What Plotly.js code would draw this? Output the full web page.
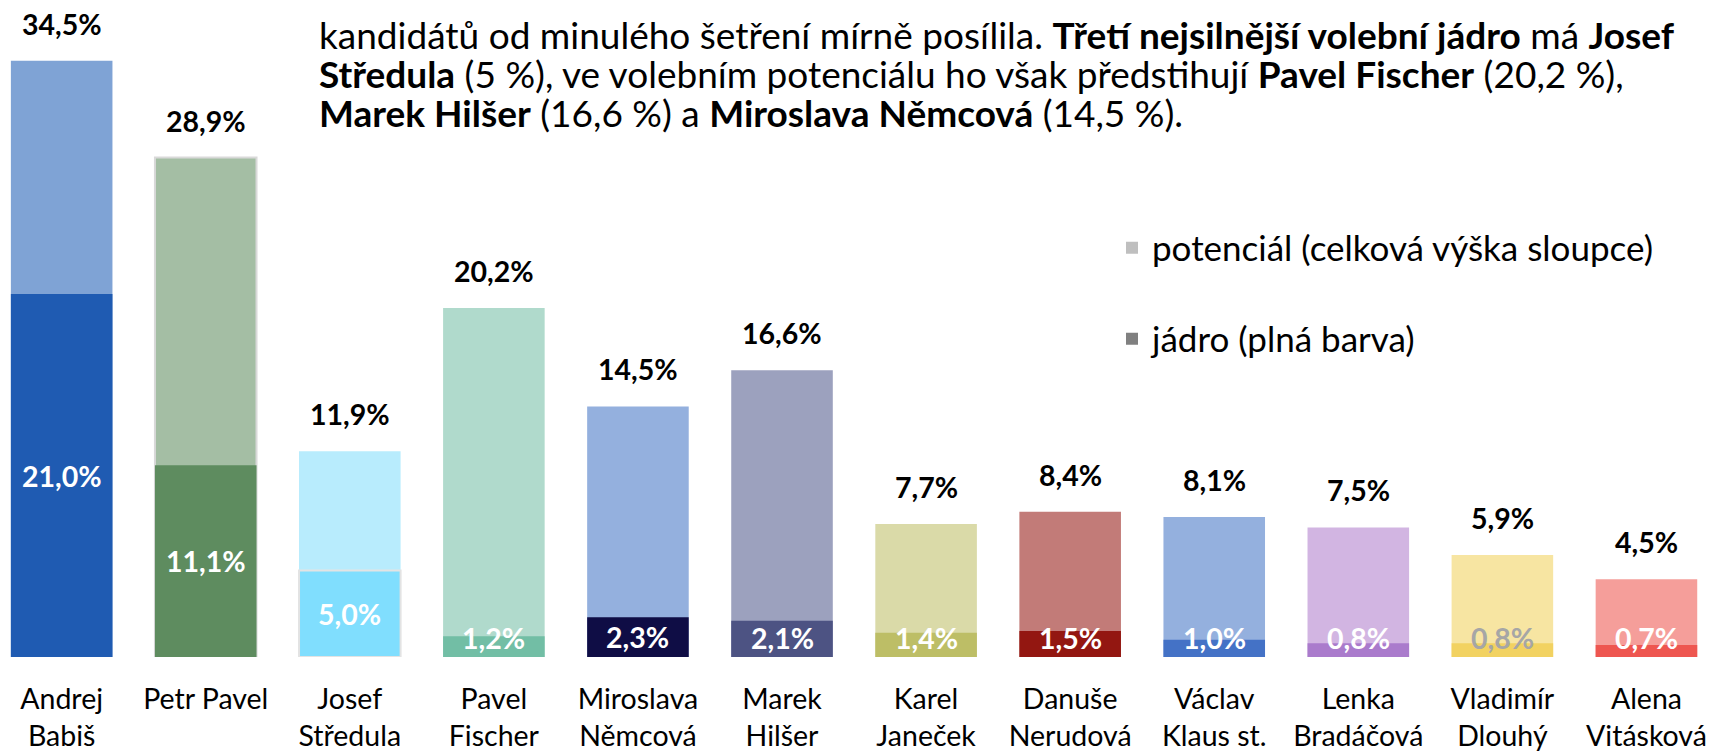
<!DOCTYPE html>
<html>
<head>
<meta charset="utf-8">
<script src="https://cdn.plot.ly/plotly-3.0.1.min.js"></script>
<style>html,body{margin:0;padding:0;background:#fff;}#chart{width:1712px;height:752px;}</style>
</head>
<body>
<div id="chart"></div>
<script>
const categories = ['Andrej<br>Babiš','Petr Pavel','Josef<br>Středula','Pavel<br>Fischer','Miroslava<br>Němcová','Marek<br>Hilšer','Karel<br>Janeček','Danuše<br>Nerudová','Václav<br>Klaus st.','Lenka<br>Bradáčová','Vladimír<br>Dlouhý','Alena<br>Vitásková'];
const potential = [34.5, 28.9, 11.9, 20.2, 14.5, 16.6, 7.7, 8.4, 8.1, 7.5, 5.9, 4.5];
const core = [21.0, 11.1, 5.0, 1.2, 2.3, 2.1, 1.4, 1.5, 1.0, 0.8, 0.8, 0.7];
const potentialColors = ['#7FA3D5','#A4BEA4','#B8ECFD','#B0DACC','#94B0DE','#9CA1BE','#DADAA8','#C27B78','#94B0DE','#D2B5E2','#F7E5A2','#F59E9A'];
const coreColors = ['#1F5BB2','#5E8C5F','#80DEFE','#72BEA5','#0F0D45','#4D5383','#BDBE66','#931711','#4472C6','#AA7BCC','#F2D261','#EE5650'];
const coreLabelColors = ['#FFFFFF','#FFFFFF','#FFFFFF','#FFFFFF','#FFFFFF','#FFFFFF','#FFFFFF','#FFFFFF','#FFFFFF','#FFFFFF','#A6A6A6','#FFFFFF'];
const legendNames = ['potenciál (celková výška sloupce)', 'jádro (plná barva)'];
const legendColors = ['#BFBFBF', '#808080'];
const paragraphLines = [
  'kandidátů od minulého šetření mírně posílila. <b>Třetí nejsilnější volební jádro</b> má <b>Josef</b>',
  '<b>Středula</b> (5 %), ve volebním potenciálu ho však předstihují <b>Pavel Fischer</b> (20,2 %),',
  '<b>Marek Hilšer</b> (16,6 %) a <b>Miroslava Němcová</b> (14,5 %).'
];

const FONT = 'Lato, "Open Sans", sans-serif';
const fmt = v => v.toFixed(1).replace('.', ',') + '%';

const W = 1712, H = 752, plotBottom = 657;

const traces = [
  {
    type: 'bar', x: categories, y: potential, showlegend: false,
    marker: { color: potentialColors,
      line: { color: '#D9D9D9', width: potential.map((v, i) => i === 1 ? 2 : 0) } },
    hoverinfo: 'skip'
  },
  {
    type: 'bar', x: categories, y: core, showlegend: false,
    marker: { color: coreColors,
      line: { color: '#E3E3E3', width: core.map((v, i) => i === 2 ? 2 : 0) } },
    hoverinfo: 'skip'
  },
  { type: 'bar', x: [null], y: [null], name: legendNames[0], marker: { color: legendColors[0] }, legend: 'legend', showlegend: true },
  { type: 'bar', x: [null], y: [null], name: legendNames[1], marker: { color: legendColors[1] }, legend: 'legend2', showlegend: true }
];

const annotations = [];
categories.forEach((c, i) => {
  annotations.push({
    x: c, y: potential[i], xref: 'x', yref: 'y', text: '<b>' + fmt(potential[i]) + '</b>',
    showarrow: false, yanchor: 'middle', yshift: 37,
    font: { family: FONT, size: 28.5, color: '#000000' }
  });
  annotations.push({
    x: c, y: Math.max(core[i] / 2, 1.1), xref: 'x', yref: 'y', text: '<b>' + fmt(core[i]) + '</b>',
    showarrow: false, yanchor: 'middle',
    font: { family: FONT, size: 28.5, color: coreLabelColors[i] }
  });
});
const lineY = [35, 73, 112];
paragraphLines.forEach((t, i) => {
  annotations.push({
    x: 317 / W, y: 1 - lineY[i] / plotBottom, xref: 'paper', yref: 'paper',
    xanchor: 'left', yanchor: 'middle', align: 'left', showarrow: false, text: t,
    font: { family: FONT, size: 37, color: '#000000' }
  });
});

const legendCommon = {
  xanchor: 'left', yanchor: 'middle', bgcolor: 'rgba(0,0,0,0)', borderwidth: 0,
  font: { family: FONT, size: 35, color: '#000000' }
};

const layout = {
  width: W, height: H,
  margin: { l: 0, r: 0, t: 0, b: H - plotBottom, pad: 0 },
  paper_bgcolor: '#FFFFFF', plot_bgcolor: '#FFFFFF',
  barmode: 'overlay', bargap: 0.295,
  showlegend: true,
  legend: Object.assign({ x: 1112 / W, y: 1 - 248 / plotBottom }, legendCommon),
  legend2: Object.assign({ x: 1112 / W, y: 1 - 339 / plotBottom }, legendCommon),
  xaxis: {
    type: 'category', range: [-0.428, 11.455], showgrid: false, zeroline: false, showline: false,
    ticks: '', ticklabelstandoff: 22, automargin: false,
    tickfont: { family: FONT, size: 28.5, color: '#000000' }
  },
  yaxis: {
    range: [0, plotBottom / 17.28], showgrid: false, zeroline: false, showline: false,
    showticklabels: false, ticks: '', automargin: false
  },
  annotations: annotations,
  font: { family: FONT }
};

Plotly.newPlot('chart', traces, layout, { staticPlot: true, displayModeBar: false });
</script>
</body>
</html>
